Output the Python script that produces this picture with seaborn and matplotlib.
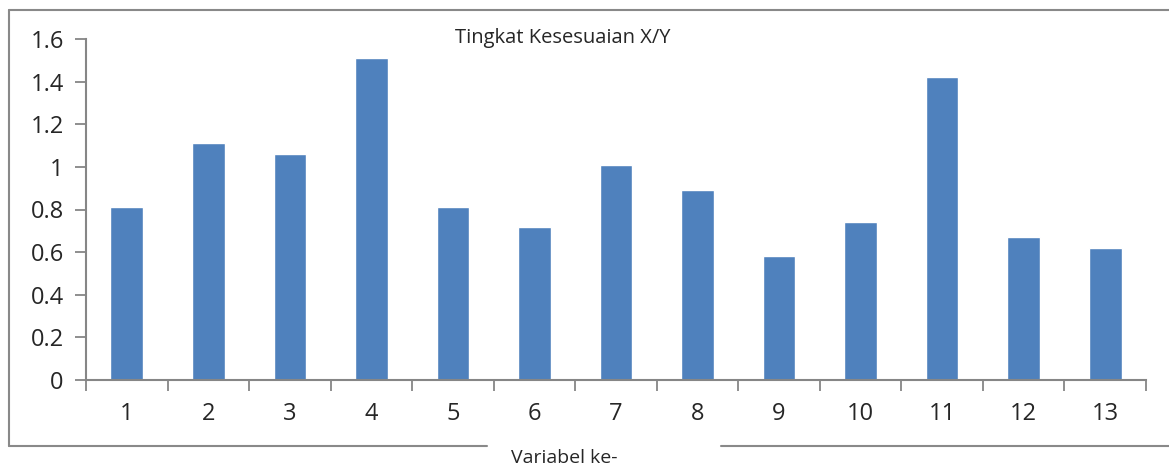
import numpy as np
import pandas as pd
import matplotlib
matplotlib.use("Agg")
import matplotlib.pyplot as plt
from matplotlib.lines import Line2D
import seaborn as sns

variabel = [str(i) for i in range(1, 14)]
kesesuaian = [0.81, 1.11, 1.06, 1.51, 0.81, 0.72, 1.01, 0.89, 0.58, 0.74, 1.42, 0.67, 0.62]
y_ticks = [0, 0.2, 0.4, 0.6, 0.8, 1.0, 1.2, 1.4, 1.6]
y_labels = ["0", "0.2", "0.4", "0.6", "0.8", "1", "1.2", "1.4", "1.6"]

sns.set_style("white")
plt.rcParams["font.family"] = ["Open Sans", "DejaVu Sans"]

W, H = 1169, 468
fig = plt.figure(figsize=(W / 100, H / 100), dpi=100)
ax = fig.add_axes([86 / W, (H - 380) / H, (1146 - 86) / W, (380 - 39) / H])

df = pd.DataFrame({"var": variabel, "val": kesesuaian})
sns.barplot(data=df, x="var", y="val", color="#4F81BD", saturation=1,
            width=0.4, ax=ax)

axis_gray = "#868686"
ax.set_xlim(-0.5, len(variabel) - 0.5)
ax.set_ylim(0, 1.6)
ax.set_yticks(y_ticks)
ax.set_yticklabels(y_labels, fontsize=17)
ax.set_xticks(range(len(variabel)))
ax.set_xticklabels(variabel, fontsize=17)
ax.set_xticks(np.arange(-0.5, len(variabel)), minor=True)
ax.tick_params(axis="x", which="major", bottom=True, length=0, pad=16)
ax.tick_params(axis="x", which="minor", bottom=True, length=8, width=1.3,
               color=axis_gray, direction="out")
ax.tick_params(axis="y", left=True, length=8, width=1.3, color=axis_gray,
               direction="out", pad=8)
ax.set_xlabel("")
ax.set_ylabel("")
for side in ["top", "right"]:
    ax.spines[side].set_visible(False)
for side in ["left", "bottom"]:
    ax.spines[side].set_color(axis_gray)
    ax.spines[side].set_linewidth(1.5)

fig.text(563 / W, 1 - 38 / H, "Tingkat Kesesuaian X/Y",
         ha="center", va="center", fontsize=14.5)
fig.text(564 / W, 1 - 458 / H, "Variabel ke-", ha="center", va="center", fontsize=14)

# chart border (broken where the axis title sits)
bc = "#898989"
def fl(x0, y0, x1, y1):
    fig.add_artist(Line2D([x0 / W, x1 / W], [1 - y0 / H, 1 - y1 / H],
                          transform=fig.transFigure, color=bc, lw=1.5))
fl(9, 10, W, 10)
fl(9, 10, 9, 446)
fl(9, 446, 487, 446)
fl(721, 446, W, 446)

fig.savefig("out.png", dpi=100)
